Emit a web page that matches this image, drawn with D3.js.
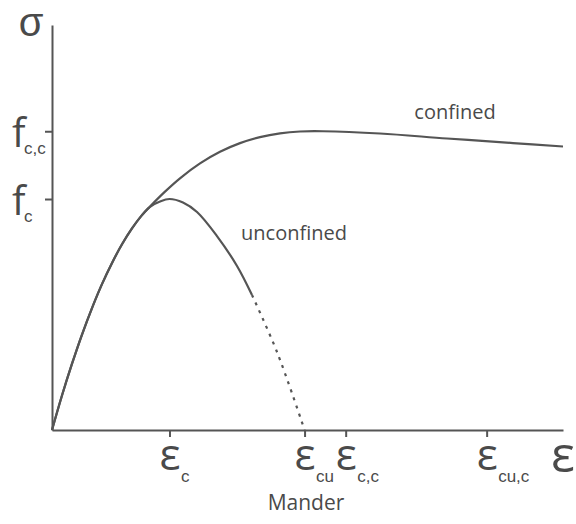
<!DOCTYPE html>
<html>
<head>
<meta charset="utf-8">
<script src="https://cdn.jsdelivr.net/npm/d3@7"></script>
<style>
  body { margin: 0; background: #fff; }
  svg text { font-family: "Open Sans", sans-serif; fill: #4a4a4a; }
  svg text.sub { font-family: "Liberation Sans", Arial, sans-serif; }
</style>
</head>
<body>
<svg id="chart" width="576" height="524"></svg>
<script>
// Peak stresses (MPa)
const fc = 30.0;     // unconfined strength
const fcc = 38.8;    // confined strength

// Strain axis marks and their subscripts
const strainTicks = [0.0020, 0.0043, 0.0050, 0.0074];
const strainSubs = ["c", "cu", "c,c", "cu,c"];

// Stress axis marks and their subscripts
const stressTicks = [fc, fcc];
const stressSubs = ["c", "c,c"];

// Confined concrete curve
const confinedStrain = [0, 0.000170, 0.000341, 0.000511, 0.000681, 0.000851, 0.001022, 0.001192,
  0.001362, 0.001532, 0.001669, 0.001924, 0.002179, 0.002520, 0.002860, 0.003201, 0.003541,
  0.003882, 0.004222, 0.004614, 0.005584, 0.006725, 0.007849, 0.008700];
const confinedStress = [0, 4.48, 8.61, 12.40, 15.84, 18.95, 21.70, 24.12,
  26.18, 27.91, 29.03, 30.96, 32.69, 34.62, 36.13, 37.26, 38.04,
  38.53, 38.77, 38.8, 38.51, 37.86, 37.27, 36.82];

// Unconfined concrete curve (solid part)
const unconfinedStrain = [0, 0.000170, 0.000341, 0.000511, 0.000681, 0.000851, 0.001022, 0.001192,
  0.001362, 0.001532, 0.001669, 0.001839, 0.0020, 0.002230, 0.002469, 0.002809, 0.003150, 0.003405];
const unconfinedStress = [0, 4.48, 8.61, 12.40, 15.84, 18.95, 21.70, 24.12,
  26.18, 27.91, 28.99, 29.68, 30.0, 29.55, 28.31, 25.19, 21.30, 17.53];

// Unconfined descending branch beyond spalling onset (dotted)
const spallStrain = [0.003405, 0.003831, 0.004300];
const spallStress = [17.53, 10.13, 0];

const svg = d3.select("#chart");
const ink = "#555";
const textInk = "#4a4a4a";

const x = d3.scaleLinear().domain([0, 0.0087]).range([52, 563]);
const y = d3.scaleLinear().domain([0, 52.6]).range([430, 25]);

// Axes
const xAxis = svg.append("g").attr("transform", `translate(0,${y(0)})`)
  .call(d3.axisBottom(x).tickValues(strainTicks).tickSize(7).tickSizeOuter(0).tickFormat(""));
const yAxis = svg.append("g").attr("transform", `translate(${x(0)},0)`)
  .call(d3.axisLeft(y).tickValues(stressTicks).tickSize(7).tickSizeOuter(0).tickFormat(""));
[xAxis, yAxis].forEach(g => {
  g.select(".domain").attr("stroke", ink).attr("stroke-width", 2);
  g.selectAll(".tick line").attr("stroke", ink).attr("stroke-width", 2);
});

// Strain tick labels: ε with subscript
xAxis.selectAll(".tick").each(function(d, i) {
  const t = d3.select(this);
  t.append("text").attr("x", 0).attr("y", 40).attr("text-anchor", "middle")
    .attr("font-size", 44).attr("stroke", "none").attr("fill", textInk).text("ε");
  t.append("text").attr("class", "sub").attr("x", 11).attr("y", 52).attr("text-anchor", "start")
    .attr("font-size", 17).attr("stroke", "none").attr("fill", textInk).text(strainSubs[i]);
});

// Stress tick labels: f with subscript
yAxis.selectAll(".tick").each(function(d, i) {
  const t = d3.select(this);
  t.append("text").attr("x", -40).attr("y", 15).attr("text-anchor", "start")
    .attr("font-size", 40).attr("stroke", "none").attr("fill", textInk).text("f");
  t.append("text").attr("class", "sub").attr("x", -28).attr("y", 22).attr("text-anchor", "start")
    .attr("font-size", 17).attr("stroke", "none").attr("fill", textInk).text(stressSubs[i]);
});

// Axis titles
svg.append("text").attr("x", 31).attr("y", 36).attr("text-anchor", "middle")
  .style("font-family", "'Liberation Sans', Arial, sans-serif")
  .attr("font-size", 40).text("σ");
svg.append("text").attr("x", 563).attr("y", 472).attr("text-anchor", "middle")
  .attr("font-size", 50).text("ε");
svg.append("text").attr("x", 306).attr("y", 510).attr("text-anchor", "middle")
  .attr("font-size", 21).text("Mander");

// Curves
const line = d3.line().x(d => x(d[0])).y(d => y(d[1])).curve(d3.curveCatmullRom.alpha(0.5));
const zip = (a, b) => a.map((v, i) => [v, b[i]]);

svg.append("path").datum(zip(confinedStrain, confinedStress))
  .attr("d", line).attr("fill", "none").attr("stroke", ink).attr("stroke-width", 2.2);
svg.append("path").datum(zip(unconfinedStrain, unconfinedStress))
  .attr("d", line).attr("fill", "none").attr("stroke", ink).attr("stroke-width", 2.2);
svg.append("path").datum(zip(spallStrain, spallStress))
  .attr("d", line)
  .attr("fill", "none").attr("stroke", ink).attr("stroke-width", 2.2)
  .attr("stroke-dasharray", "3,5.5");

// Curve labels
svg.append("text").attr("x", 455).attr("y", 119).attr("text-anchor", "middle")
  .attr("font-size", 20).text("confined");
svg.append("text").attr("x", 294).attr("y", 240).attr("text-anchor", "middle")
  .attr("font-size", 20).text("unconfined");
</script>
</body>
</html>
